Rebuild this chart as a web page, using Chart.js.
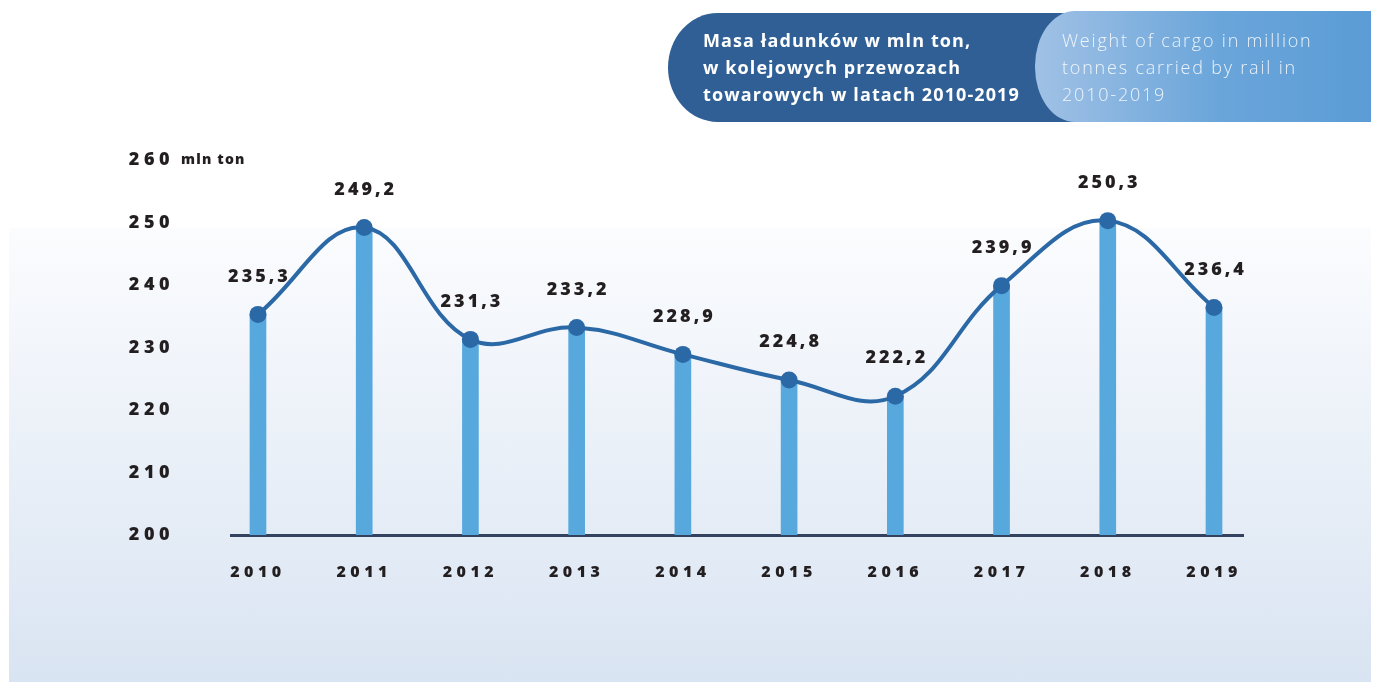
<!DOCTYPE html>
<html><head><meta charset="utf-8">
<script src="https://cdn.jsdelivr.net/npm/chart.js@4/dist/chart.umd.min.js"></script>
<style>
html,body{margin:0;padding:0;background:#fff;width:1376px;height:682px;overflow:hidden;}
#panel{position:absolute;left:9px;top:228px;width:1362px;height:454px;background:linear-gradient(#fbfcfe,#d9e4f2);}
#c{position:absolute;left:0;top:0;}
#tDark{position:absolute;left:668px;top:13px;width:450px;height:109px;background:#2f5f95;border-radius:50px 0 0 50px / 55px 0 0 55px;}
#tLight{position:absolute;left:1035px;top:11px;width:336px;height:111px;background:linear-gradient(90deg,#a0c1e5,#6aa5da 55%,#5b9cd6);border-radius:40px 0 0 40px / 55px 0 0 55px;}
.pl{position:absolute;left:703px;top:27px;color:#fff;font:700 18px/27px "Open Sans",sans-serif;letter-spacing:1.1px;white-space:nowrap;}
.en{position:absolute;left:1062px;top:27px;color:rgba(255,255,255,.85);font:300 18px/27px "Open Sans",sans-serif;letter-spacing:1.8px;white-space:nowrap;}
</style>
</head><body>
<div id="panel"></div>
<canvas id="c" width="1376" height="682"></canvas>
<div id="tDark"></div>
<div id="tLight"></div>
<div class="pl">Masa ładunków w mln ton,<br>w kolejowych przewozach<br>towarowych w latach 2010-2019</div>
<div class="en">Weight of cargo in million<br>tonnes carried by rail in<br>2010-2019</div>
<script>
const years = [2010, 2011, 2012, 2013, 2014, 2015, 2016, 2017, 2018, 2019];
const yearLabels = ['2010', '2011', '2012', '2013', '2014', '2015', '2016', '2017', '2018', '2019'];
const cargoValues = [235.3, 249.2, 231.3, 233.2, 228.9, 224.8, 222.2, 239.9, 250.3, 236.4];
const cargoLabels = ['235,3', '249,2', '231,3', '233,2', '228,9', '224,8', '222,2', '239,9', '250,3', '236,4'];
const yTickValues = [200, 210, 220, 230, 240, 250, 260];
const unitLabel = 'mln ton';

const pts = years.map((y, i) => ({x: y, y: cargoValues[i]}));

const spacingPlugin = {
  id: 'spacing',
  beforeDraw(chart) { chart.ctx.letterSpacing = '4.5px'; },
  afterDraw(chart) { chart.ctx.letterSpacing = '0px'; }
};

const labelPlugin = {
  id: 'valueLabels',
  afterDatasetsDraw(chart) {
    const ctx = chart.ctx;
    const meta = chart.getDatasetMeta(0);
    ctx.save();
    ctx.letterSpacing = '3px';
    ctx.font = '800 18px "Open Sans", sans-serif';
    ctx.fillStyle = '#231f20';
    ctx.textAlign = 'center';
    ctx.textBaseline = 'middle';
    meta.data.forEach((p, i) => {
      ctx.fillText(cargoLabels[i], p.x + 1.5, p.y - 38);
    });
    const ys = chart.scales.y;
    ctx.letterSpacing = '1.2px';
    ctx.font = '800 14px "Open Sans", sans-serif';
    ctx.textAlign = 'left';
    ctx.fillText(unitLabel, chart.chartArea.left - 50, ys.getPixelForValue(yTickValues[yTickValues.length - 1]));
    ctx.restore();
  }
};

new Chart(document.getElementById('c'), {
  data: {
    datasets: [
      {
        type: 'line',
        data: pts,
        order: 0,
        borderColor: '#2b68a6',
        borderWidth: 4,
        tension: 0.4,
        pointRadius: 8.5,
        pointBackgroundColor: '#2b68a6',
        pointBorderWidth: 0,
        clip: false
      },
      {
        type: 'bar',
        data: pts,
        order: 1,
        backgroundColor: '#56a8dd',
        barThickness: 16
      }
    ]
  },
  options: {
    responsive: false,
    animation: false,
    devicePixelRatio: 1,
    layout: {padding: {top: 160, right: 133, left: 0, bottom: 0}},
    plugins: {legend: {display: false}, tooltip: {enabled: false}},
    scales: {
      x: {
        type: 'linear',
        offset: false,
        min: 2009.746,
        max: 2019.273,
        afterBuildTicks(s) { s.ticks = years.map(v => ({value: v})); },
        afterFit(s) { s.height = 147; },
        grid: {display: false, drawTicks: false, offset: false},
        border: {display: true, color: '#33425e', width: 3},
        ticks: {
          padding: 28,
          color: '#231f20',
          font: {family: '"Open Sans", sans-serif', size: 16, weight: '800'},
          callback: (v) => yearLabels[years.indexOf(v)],
          maxRotation: 0
        }
      },
      y: {
        type: 'linear',
        min: 200,
        max: 260,
        afterBuildTicks(s) { s.ticks = yTickValues.map(v => ({value: v})); },
        afterFit(s) { s.width = 231; },
        grid: {display: false, drawTicks: false},
        border: {display: false},
        ticks: {
          padding: 57,
          color: '#231f20',
          font: {family: '"Open Sans", sans-serif', size: 18, weight: '800'}
        }
      }
    }
  },
  plugins: [spacingPlugin, labelPlugin]
});
</script>
</body></html>
